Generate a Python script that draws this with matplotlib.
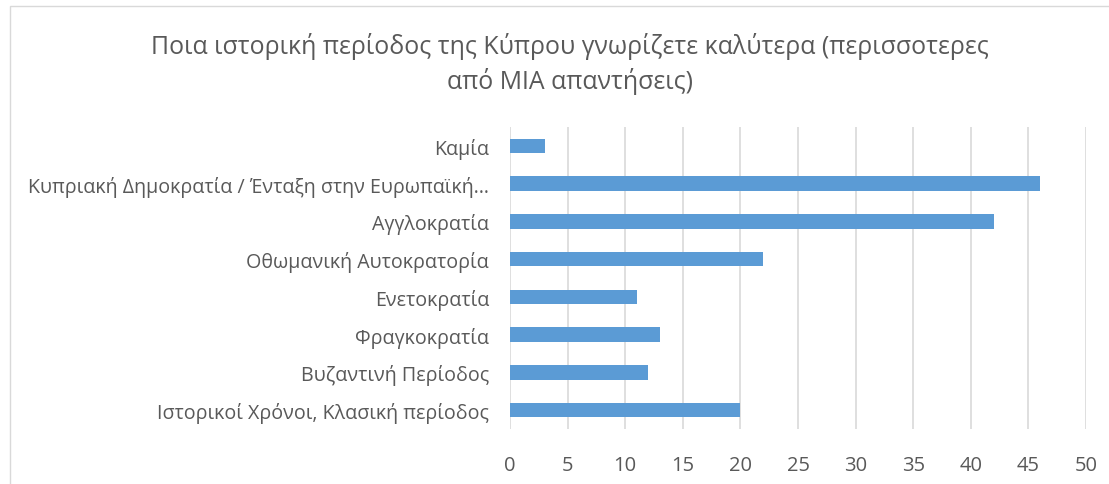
import matplotlib
matplotlib.use('Agg')
import matplotlib.pyplot as plt
from matplotlib.patches import Rectangle

plt.rcParams['font.family'] = ['Open Sans', 'DejaVu Sans']

# categories from bottom to top, as in the chart
categories = ['Ιστορικοί Χρόνοι, Κλασική περίοδος',
              'Βυζαντινή Περίοδος',
              'Φραγκοκρατία',
              'Ενετοκρατία',
              'Οθωμανική Αυτοκρατορία',
              'Αγγλοκρατία',
              'Κυπριακή Δημοκρατία / Ένταξη στην Ευρωπαϊκή…',
              'Καμία']
counts = [20, 12, 13, 11, 22, 42, 46, 3]
xticks = [0, 5, 10, 15, 20, 25, 30, 35, 40, 45, 50]

title = 'Ποια ιστορική περίοδος της Κύπρου γνωρίζετε καλύτερα (περισσοτερες\nαπό ΜΙΑ απαντήσεις)'

text_col = '#595959'
grid_col = '#D9D9D9'
bar_col = '#5B9BD5'

fig = plt.figure(figsize=(11.09, 4.85), dpi=100)
ax = fig.add_axes([510/1109, 1 - 430/485, 576/1109, 302/485])

# chart border
fig.patches.append(Rectangle((10/1109, -0.1), 1.2, 1 - 7/485 + 0.1,
                             transform=fig.transFigure, fill=False,
                             edgecolor=grid_col, linewidth=1))

ypos = list(range(len(categories)))
ax.barh(ypos, counts, height=0.38, color=bar_col, zorder=3)

ax.set_xlim(0, 50)
ax.set_ylim(-0.5, len(categories) - 0.5)
ax.set_xticks(xticks)
ax.set_yticks(ypos)
ax.set_yticklabels(categories)
ax.xaxis.grid(True, color=grid_col, linewidth=1.2, zorder=0)
ax.set_axisbelow(True)
for s in ['top', 'right', 'bottom', 'left']:
    ax.spines[s].set_visible(False)
ax.tick_params(axis='x', length=0, pad=19, labelsize=14.5, labelcolor=text_col)
ax.tick_params(axis='y', length=0, pad=15, labelsize=14.1, labelcolor=text_col)

fig.text(570/1109, 1 - 64/485, title, ha='center', va='center',
         fontsize=17.9, color=text_col, linespacing=1.35)

fig.savefig('out.png', dpi=100)
